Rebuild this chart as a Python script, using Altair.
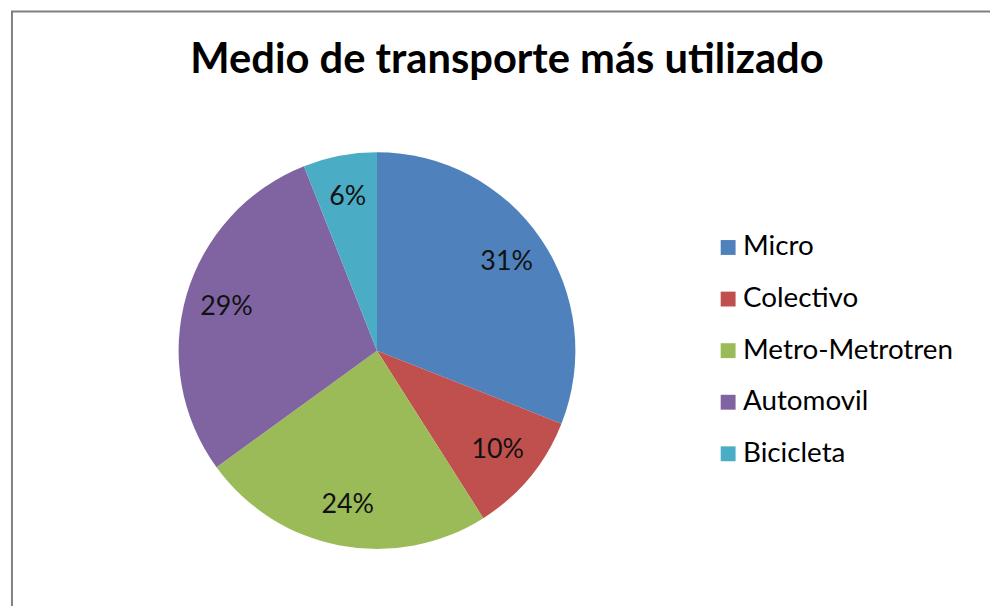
import altair as alt
import pandas as pd

categorias = ["Micro", "Colectivo", "Metro-Metrotren", "Automovil", "Bicicleta"]
porcentajes = [31, 10, 24, 29, 6]
etiquetas = ["31%", "10%", "24%", "29%", "6%"]
colores = ["#4F81BD", "#C0504D", "#9BBB59", "#8064A2", "#4BACC6"]
titulo = "Medio de transporte más utilizado"

df = pd.DataFrame({
    "medio": categorias,
    "valor": porcentajes,
    "etiqueta": etiquetas,
    "orden": list(range(len(categorias))),
})
df_titulo = pd.DataFrame({"t": [titulo]})

FONT = "Lato"
PAD_TOP = 90
W, H = 990, 598 - PAD_TOP
CX, CY = 372, 343 - PAD_TOP
R = 200

base = alt.Chart(df).encode(
    theta=alt.Theta("valor:Q", stack=True),
    order=alt.Order("orden:Q"),
)

pie = base.mark_arc(outerRadius=R).encode(
    x=alt.value(CX),
    y=alt.value(CY),
    color=alt.Color(
        "medio:N",
        scale=alt.Scale(domain=categorias, range=colores),
        legend=alt.Legend(
            title=None,
            orient="none",
            legendX=712,
            legendY=135,
            symbolType="square",
            symbolSize=225,
            symbolStrokeWidth=0,
            labelFont=FONT,
            labelFontSize=28,
            labelColor="#000000",
            labelOffset=1,
            labelLimit=400,
            rowPadding=24,
            padding=0,
        ),
    ),
)

labels = base.mark_text(radius=158, font=FONT, fontSize=27, color="#111111").encode(
    x=alt.value(CX),
    y=alt.value(CY),
    text="etiqueta:N",
)

title_mark = alt.Chart(df_titulo).mark_text(
    font=FONT, fontSize=42, fontWeight="bold", color="#000000",
    align="center", baseline="alphabetic",
).encode(
    x=alt.value(503),
    y=alt.value(71 - 8 - PAD_TOP),
    text="t:N",
)

frame = alt.Chart(df_titulo).mark_rect(
    fill=None, stroke="#808080", strokeWidth=2
).encode(
    x=alt.value(4), x2=alt.value(W + 20),
    y=alt.value(-PAD_TOP + 1), y2=alt.value(H + 20),
)

chart = alt.layer(frame, title_mark, pie, labels).properties(
    width=W,
    height=H,
    padding={"left": 0, "right": 0, "top": PAD_TOP, "bottom": 0},
    autosize=alt.AutoSizeParams(type="none"),
).configure_view(stroke=None)

chart.save("out.html", embed_options={"renderer": "svg", "actions": False})
